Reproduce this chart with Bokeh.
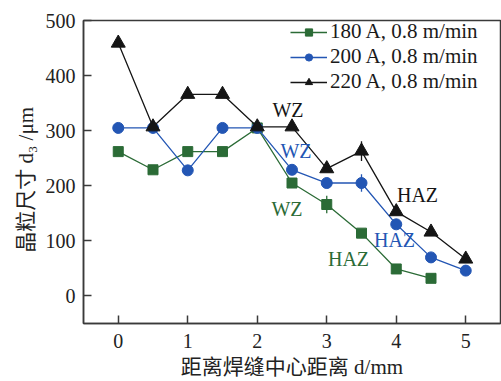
from bokeh.plotting import figure
from bokeh.models import Range1d, FixedTicker, Legend, LegendItem, Label
from bokeh.embed import file_html
from bokeh.resources import INLINE

# ---- data ----
dist = [0, 0.5, 1, 1.5, 2, 2.5, 3, 3.5, 4, 4.5, 5]
s180 = [262, 229, 262, 262, 305, 205, 166, 114, 49, 32]
s200 = [305, 305, 228, 305, 305, 229, 205, 205, 130, 70, 46]
s220 = [459, 307, 366, 366, 307, 307, 231, 263, 153, 116, 67]
err180 = [0, 0, 0, 0, 0, 0, 16, 0, 0, 0]
err200 = [0, 0, 0, 0, 0, 0, 0, 16, 0, 0, 0]
err220 = [0, 0, 0, 0, 0, 0, 0, 18, 0, 0, 0]
labels = ["180 A, 0.8 m/min", "200 A, 0.8 m/min", "220 A, 0.8 m/min"]
x_ticks = [0, 1, 2, 3, 4, 5]
y_ticks = [0, 100, 200, 300, 400, 500]
x_title = "距离焊缝中心距离 d/mm"
y_title = "晶粒尺寸 d₃ /μm"

GREEN = "#2b6b36"
BLUE = "#2356b4"
BLACK = "#151515"
AX = "#3a3a3a"
SERIF = "Liberation Serif"
MIXED = "Liberation Serif, Noto Sans CJK SC"

p = figure(width=501, height=381, output_backend="svg", toolbar_location=None,
           x_range=Range1d(-0.5, 5.5), y_range=Range1d(-50, 500),
           min_border_left=83, min_border_right=1, min_border_top=20, min_border_bottom=56)
p.background_fill_color = "white"
p.border_fill_color = "white"
p.xgrid.visible = False
p.ygrid.visible = False
p.outline_line_color = AX
p.outline_line_width = 1.5

for ax, ticks in ((p.xaxis[0], x_ticks), (p.yaxis[0], y_ticks)):
    ax.ticker = FixedTicker(ticks=ticks)
    ax.minor_tick_line_color = None
    ax.major_tick_in = 8
    ax.major_tick_out = 0
    ax.major_tick_line_color = AX
    ax.major_tick_line_width = 1.5
    ax.axis_line_color = AX
    ax.axis_line_width = 1.5
    ax.major_label_text_font = SERIF
    ax.major_label_text_font_size = "20px"
    ax.major_label_text_color = "#222222"
    ax.axis_label_text_font = MIXED
    ax.axis_label_text_font_size = "21px"
    ax.axis_label_text_font_style = "normal"
    ax.axis_label_text_color = "#222222"
p.xaxis.major_label_standoff = 10
p.yaxis.major_label_standoff = 8
p.xaxis.axis_label = x_title
p.yaxis.axis_label = y_title + "   "
p.xaxis.axis_label_standoff = 4
p.yaxis.axis_label_standoff = 5

series = [(s180, err180, GREEN, "square", 10),
          (s200, err200, BLUE, "circle", 11),
          (s220, err220, BLACK, "triangle", 14)]
items = []
for (vals, errs, col, mk, sz), lab in zip(series, labels):
    xs = dist[:len(vals)]
    lo = [v - e for v, e in zip(vals, errs) if e > 0]
    hi = [v + e for v, e in zip(vals, errs) if e > 0]
    ex = [x for x, e in zip(xs, errs) if e > 0]
    p.segment(x0=ex, y0=lo, x1=ex, y1=hi, line_color=col, line_width=1.3)
    r1 = p.line(xs, vals, line_color=col, line_width=1.3)
    r2 = p.scatter(xs, vals, marker=mk, size=sz, fill_color=col, line_color=col)
    items.append(LegendItem(label=lab, renderers=[r1, r2]))

leg = Legend(items=items, location=(207, 229))
leg.border_line_color = None
leg.background_fill_alpha = 0
leg.label_text_font = SERIF
leg.label_text_font_size = "21px"
leg.label_text_color = "#1a1a1a"
leg.glyph_width = 37
leg.glyph_height = 18
leg.label_height = 18
leg.label_standoff = 3
leg.label_text_line_height = 0.7
leg.spacing = 0
leg.padding = 8
leg.margin = 0
p.add_layout(leg)


# pixel -> data helpers for in-frame text placement
def dx(px):
    return -0.5 + (px - 83.0) / 69.5


def dy(py):
    return 500 - (py - 20.0) / 0.5545


zone_text = ["WZ", "WZ", "WZ", "HAZ", "HAZ", "HAZ"]
zone_col = [BLACK, BLUE, GREEN, BLACK, BLUE, GREEN]
zone_px = [(287.5, 110), (295.5, 151), (286.5, 209.5), (417, 196), (394, 240.5), (348, 260.5)]
for t, c, (px, py) in zip(zone_text, zone_col, zone_px):
    p.add_layout(Label(x=dx(px), y=dy(py), text=t, text_color=c, text_font=SERIF,
                       text_font_size="20px", text_align="center", text_baseline="middle"))

open("out.html", "w").write(file_html(p, INLINE))
